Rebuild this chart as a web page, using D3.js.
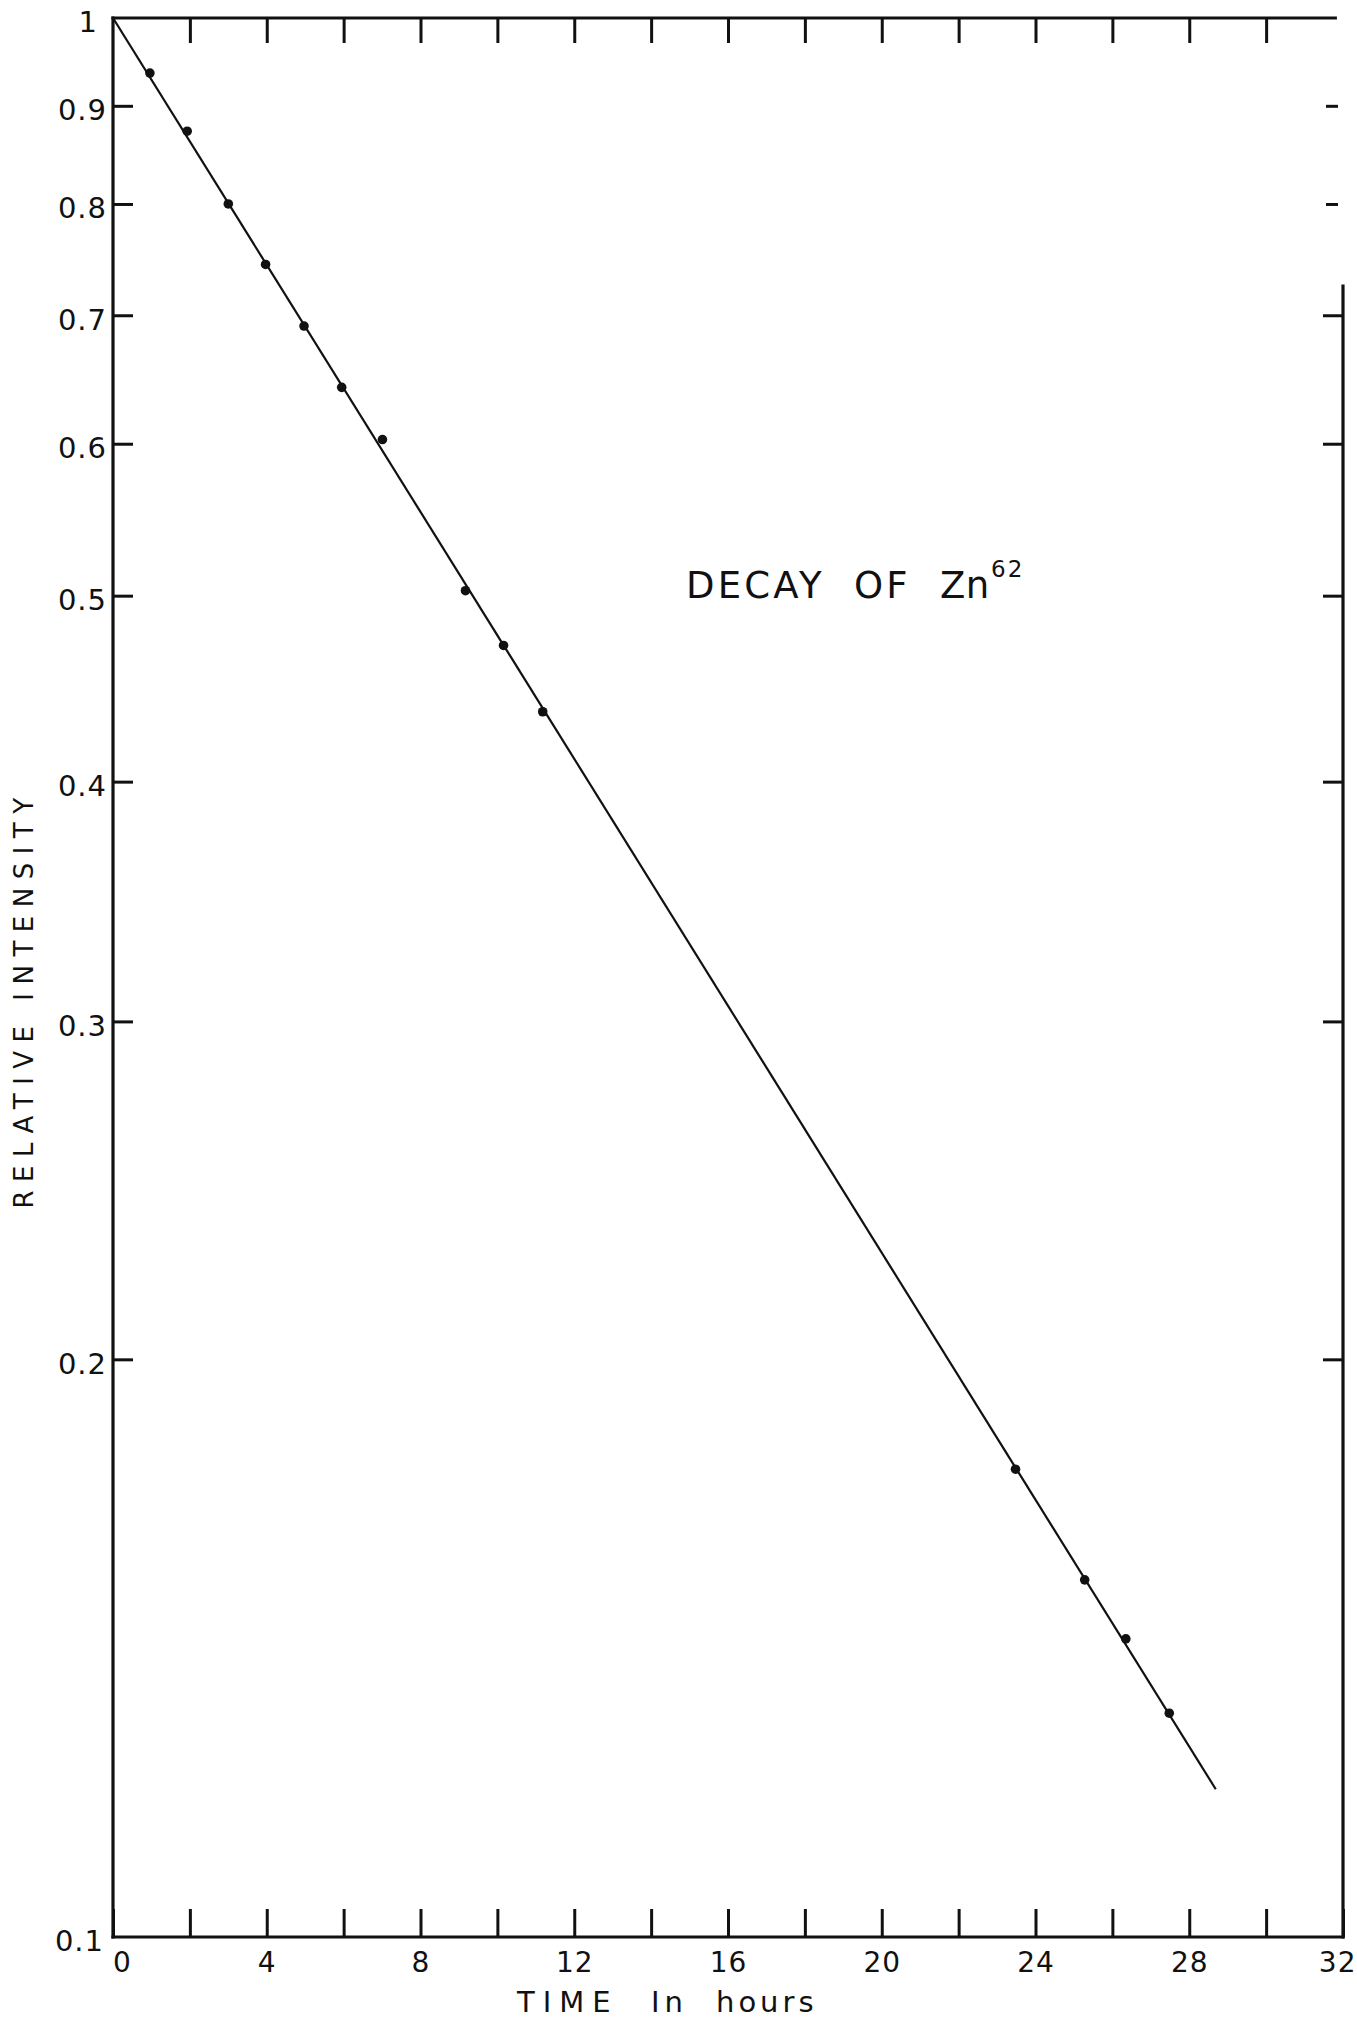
<!DOCTYPE html>
<html><head><meta charset="utf-8">
<script src="https://cdn.jsdelivr.net/npm/d3@7"></script>
<style>
html,body{margin:0;padding:0;background:#fff;}
svg{display:block;}
text{font-family:"DejaVu Sans",sans-serif;fill:#111;}
</style></head><body>
<svg id="chart" width="1357" height="2021"></svg>
<script>
// Measured decay points (time in hours, relative intensity)
const hours = [0.96, 1.93, 3.00, 3.97, 4.97, 5.95, 7.01, 9.17, 10.16, 11.18, 23.48, 25.28, 26.35, 27.48];
const intensity = [0.936, 0.873, 0.800, 0.744, 0.691, 0.642, 0.603, 0.503, 0.471, 0.435, 0.1753, 0.1535, 0.1430, 0.1308];
// Fitted straight line on the semi-log plot
const fitHours = [0, 28.69];
const fitIntensity = [1, 0.1194];
// Axes
const xTickValues = [0,2,4,6,8,10,12,14,16,18,20,22,24,26,28,30,32];
const xLabelValues = [0,4,8,12,16,20,24,28,32];
const yTickValues = [1,0.9,0.8,0.7,0.6,0.5,0.4,0.3,0.2,0.1];
const yTickLabels = ["1","0.9","0.8","0.7","0.6","0.5","0.4","0.3","0.2","0.1"];
const titleText = "DECAY OF Zn";
const titleSup = "62";
const xTitle = "TIME In hours";
const yTitle = "RELATIVE INTENSITY";

const svg = d3.select("#chart");
const L = 113, R = 1343, T = 18, B = 1937;
const x = d3.scaleLinear().domain([0, 32]).range([L, R]);
const y = d3.scaleLog().domain([0.1, 1]).range([B, T]);
const ink = "#111";

// bottom axis (ticks point up, labels below)
const gB = svg.append("g").attr("transform", `translate(0,${B})`)
  .call(d3.axisBottom(x).tickValues(xTickValues)
    .tickFormat(d => xLabelValues.includes(d) ? String(d) : "")
    .tickSizeInner(-28).tickSizeOuter(0).tickPadding(15));
gB.select(".domain").remove();
gB.selectAll(".tick line").attr("stroke", ink).attr("stroke-width", 3);
gB.selectAll(".tick text").attr("font-size", 28).attr("fill", ink)
  .attr("font-family", '"DejaVu Sans",sans-serif')
  .attr("letter-spacing", 1)
  .attr("text-anchor", d => d === 32 ? "end" : "middle")
  .attr("dx", d => d === 0 ? 9 : (d === 32 ? 13 : 0));

// top axis (ticks point down, no labels)
const gT = svg.append("g").attr("transform", `translate(0,${T})`)
  .call(d3.axisTop(x).tickValues(xTickValues.filter(d => d > 0 && d < 32))
    .tickFormat("").tickSizeInner(-25).tickSizeOuter(0));
gT.select(".domain").remove();
gT.selectAll(".tick line").attr("stroke", ink).attr("stroke-width", 3);

// left axis
const gL = svg.append("g").attr("transform", `translate(${L},0)`)
  .call(d3.axisLeft(y).tickValues(yTickValues)
    .tickFormat((d, i) => yTickLabels[i])
    .tickSizeInner(-20).tickSizeOuter(0).tickPadding(7));
gL.select(".domain").remove();
gL.selectAll(".tick line").attr("stroke", ink).attr("stroke-width", 3)
  .attr("display", d => (d === 1 || d === 0.1) ? "none" : null);
gL.selectAll(".tick text").attr("font-size", 29).attr("fill", ink)
  .attr("font-family", '"DejaVu Sans",sans-serif')
  .attr("letter-spacing", 1)
  .attr("dy", "0.48em")
  .attr("x", d => d === 1 ? -15 : (d === 0.1 ? -9 : -6));

// right axis
const gR = svg.append("g").attr("transform", `translate(${R},0)`)
  .call(d3.axisRight(y).tickValues(yTickValues.slice(1, -1))
    .tickFormat("").tickSizeInner(-20).tickSizeOuter(0));
gR.select(".domain").remove();
gR.selectAll(".tick line").attr("stroke", ink).attr("stroke-width", 3)
  .attr("x1", d => d > 0.75 ? -5 : 0)
  .attr("x2", d => d > 0.75 ? -17 : -20);

// frame
const frame = svg.append("g").attr("stroke", ink).attr("stroke-width", 3.2).attr("fill", "none")
  .attr("stroke-linecap", "square");
frame.append("line").attr("x1", x(0)).attr("x2", x(31.8)).attr("y1", y(1)).attr("y2", y(1));
frame.append("line").attr("x1", x(0)).attr("x2", x(0)).attr("y1", y(1)).attr("y2", y(0.1));
frame.append("line").attr("x1", x(0)).attr("x2", x(32)).attr("y1", y(0.1)).attr("y2", y(0.1));
frame.append("line").attr("x1", x(32)).attr("x2", x(32)).attr("y1", y(0.725)).attr("y2", y(0.1));

// fitted line
const fit = fitHours.map((h, i) => ({h, v: fitIntensity[i]}));
svg.append("path").datum(fit)
  .attr("d", d3.line().x(d => x(d.h)).y(d => y(d.v)))
  .attr("fill", "none").attr("stroke", ink).attr("stroke-width", 2.2);

// points
const pts = hours.map((h, i) => ({h, v: intensity[i]}));
svg.append("g").selectAll("circle").data(pts).join("circle")
  .attr("cx", d => x(d.h)).attr("cy", d => y(d.v)).attr("r", 4.8).attr("fill", ink);

// title
const tt = svg.append("text").attr("y", 598).attr("font-size", 37);
const tw = titleText.split(" ");
const tx = [686, 854, 940];
const tls = [3.2, 3.2, 0.5];
tw.forEach((w, i) => tt.append("tspan").attr("x", tx[i]).attr("letter-spacing", tls[i])
  .text(w + (i < tw.length - 1 ? " " : "")));
tt.append("tspan").attr("x", 991).attr("y", 577).attr("font-size", 23).attr("letter-spacing", 2).text(titleSup);

// x title
const xt = svg.append("text").attr("y", 2012).attr("font-size", 29);
const xw = xTitle.split(" ");
const xx = [517, 651, 716];
const xls = [8, 5, 4];
xw.forEach((w, i) => xt.append("tspan").attr("x", xx[i]).attr("letter-spacing", xls[i])
  .text(w + (i < xw.length - 1 ? " " : "")));

// y title
svg.append("text").attr("transform", "translate(33,999) rotate(-90)")
  .attr("text-anchor", "middle").attr("font-size", 26).attr("letter-spacing", 8.5)
  .text(yTitle);
</script>
</body></html>
